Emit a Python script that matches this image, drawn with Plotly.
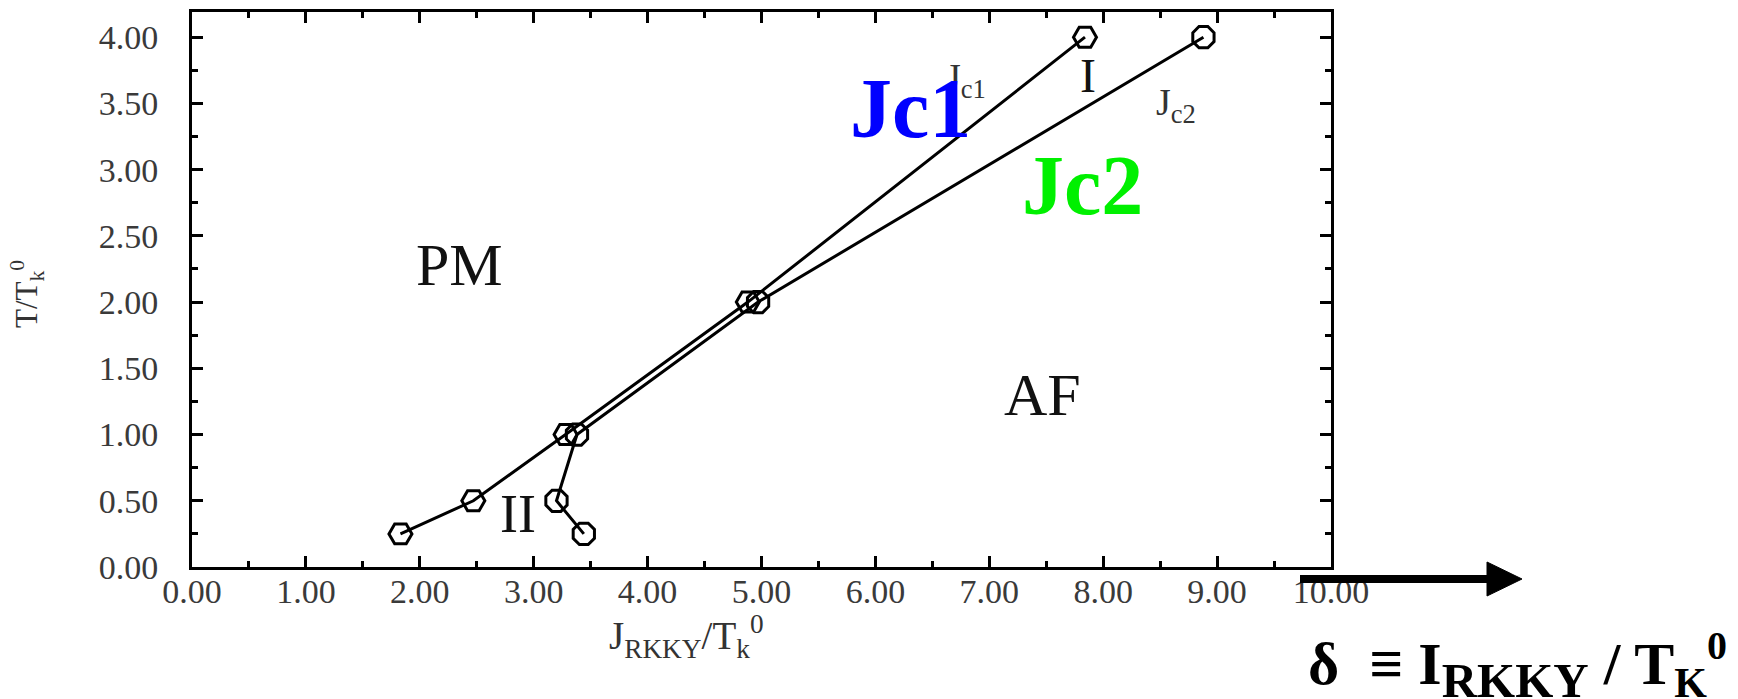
import plotly.graph_objects as go

# ---- data ----
jc1_x = [1.83, 2.47, 3.28, 4.88, 7.84]
jc1_y = [0.25, 0.50, 1.00, 2.00, 4.00]
jc2_x = [3.44, 3.20, 3.38, 4.97, 8.88]
jc2_y = [0.25, 0.50, 1.00, 2.00, 4.00]

x_range = [0, 10]
y_range = [0, 4.19]
x_ticks = [0, 1, 2, 3, 4, 5, 6, 7, 8, 9, 10]
y_ticks = [0, 0.5, 1.0, 1.5, 2.0, 2.5, 3.0, 3.5, 4.0]

region_labels = ["PM", "AF", "II", "I"]
region_x = [2.35, 7.47, 2.86, 7.87]
region_y = [2.28, 1.30, 0.40, 3.71]

SERIF = "Liberation Serif, Times New Roman, serif"

fig = go.Figure()
fig.add_trace(go.Scatter(
    x=jc1_x, y=jc1_y, mode="lines+markers", name="Jc1",
    line=dict(color="black", width=3),
    marker=dict(symbol="hexagon2-open", size=23, color="black",
                line=dict(width=3, color="black")),
    showlegend=False, cliponaxis=False))
fig.add_trace(go.Scatter(
    x=jc2_x, y=jc2_y, mode="lines+markers", name="Jc2",
    line=dict(color="black", width=3),
    marker=dict(symbol="octagon-open", size=23, color="black",
                line=dict(width=3, color="black")),
    showlegend=False, cliponaxis=False))

axis_common = dict(
    showline=True, linecolor="black", linewidth=3, mirror="allticks",
    ticks="inside", ticklen=11, tickwidth=3, tickcolor="black",
    showgrid=False, zeroline=False, tickformat=".2f", automargin=False,
    tickfont=dict(family=SERIF, size=34, color="#3a3a3a"),
)
fig.update_xaxes(range=x_range, tickvals=x_ticks,
                 minor=dict(dtick=0.5, ticks="inside", ticklen=6, tickwidth=3,
                            tickcolor="black", showgrid=False),
                 ticklabelstandoff=-8, **axis_common)
fig.update_yaxes(range=y_range, tickvals=y_ticks,
                 minor=dict(dtick=0.25, ticks="inside", ticklen=6, tickwidth=3,
                            tickcolor="black", showgrid=False),
                 ticklabelstandoff=24, **axis_common)

ann = []
sizes = {"PM": 60, "AF": 60, "II": 54, "I": 48}
for t, xx, yy in zip(region_labels, region_x, region_y):
    ann.append(dict(x=xx, y=yy, xref="x", yref="y", text=t, showarrow=False,
                    xanchor="center", yanchor="middle",
                    font=dict(family=SERIF, size=sizes[t], color="#111")))
# small J_c labels
ann.append(dict(x=6.60, y=3.68, xref="x", yref="y", xanchor="left", yanchor="middle",
                text="J<sub>c1</sub>", showarrow=False,
                font=dict(family=SERIF, size=38, color="#333")))
ann.append(dict(x=8.45, y=3.49, xref="x", yref="y", xanchor="left", yanchor="middle",
                text="J<sub>c2</sub>", showarrow=False,
                font=dict(family=SERIF, size=38, color="#333")))
# big coloured labels
ann.append(dict(x=6.31, y=3.46, xref="x", yref="y", text="<b>Jc1</b>",
                xanchor="center", yanchor="middle",
                showarrow=False, font=dict(family=SERIF, size=84, color="#0000ff")))
ann.append(dict(x=7.82, y=2.88, xref="x", yref="y", text="<b>Jc2</b>",
                xanchor="center", yanchor="middle",
                showarrow=False, font=dict(family=SERIF, size=84, color="#00f000")))


def px2x(p):
    return (p - 192) / 1139


def px2y(p):
    return (567 - p) / 555


# axis titles
ann.append(dict(x=px2x(686), y=px2y(636), xref="paper", yref="paper",
                xanchor="center", yanchor="middle",
                text="J<sub>RKKY</sub>/T<sub>k</sub><sup>0</sup>", showarrow=False,
                font=dict(family=SERIF, size=39, color="#333")))
ann.append(dict(x=px2x(27), y=px2y(294), xref="paper", yref="paper",
                xanchor="center", yanchor="middle",
                text="T/T<sub>k</sub><sup>0</sup>", showarrow=False, textangle=-90,
                font=dict(family=SERIF, size=31, color="#333")))
# formula
ann.append(dict(x=px2x(1306), y=px2y(665), xref="paper", yref="paper",
                xanchor="left", yanchor="middle",
                text=("<b>δ  ≡ I<sub><span style='font-size:49px'>RKKY</span></sub>"
                      " / T<sub><span style='font-size:42px'>K</span></sub>"
                      "<sup><span style='font-size:40px'>0</span></sup></b>"),
                showarrow=False, font=dict(family=SERIF, size=60, color="black")))

shapes = [
    dict(type="line", xref="paper", yref="paper", x0=px2x(1300), x1=px2x(1492),
         y0=px2y(579), y1=px2y(579), line=dict(color="black", width=8), layer="above"),
    dict(type="path", xref="paper", yref="paper",
         path=(f"M {px2x(1487)},{px2y(562)} L {px2x(1522)},{px2y(579)} "
               f"L {px2x(1487)},{px2y(596)} Z"),
         fillcolor="black", line=dict(color="black", width=1), layer="above"),
]

fig.update_layout(
    width=1738, height=699,
    margin=dict(l=192, r=407, t=12, b=132),
    paper_bgcolor="white", plot_bgcolor="white",
    annotations=ann, shapes=shapes,
)

fig.write_html("out.html", config={"displayModeBar": False},
               post_script="document.body.style.margin='0px';")
